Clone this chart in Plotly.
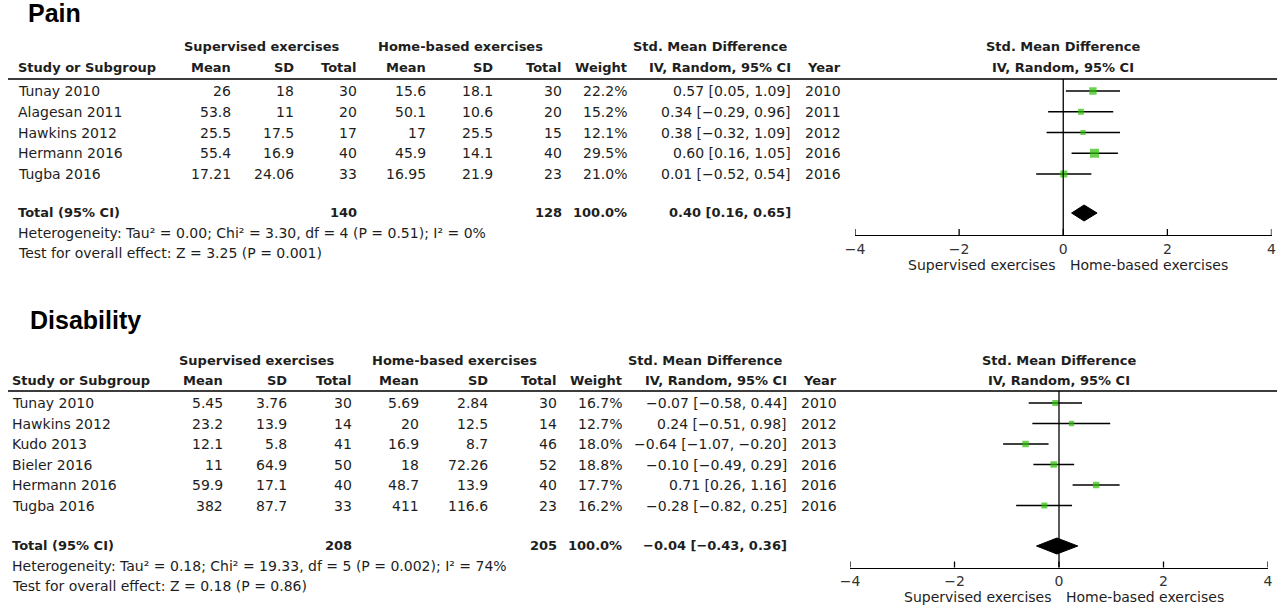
import plotly.graph_objects as go

W, H = 1280, 608
FONT = "DejaVu Sans"
TXT = "#1e1e1e"
GREEN = "#2cbf06"

# ---------------- DATA ----------------
pain_study = ["Tunay 2010", "Alagesan 2011", "Hawkins 2012", "Hermann 2016", "Tugba 2016"]
pain_sup_mean = [26, 53.8, 25.5, 55.4, 17.21]
pain_sup_sd = [18, 11, 17.5, 16.9, 24.06]
pain_sup_n = [30, 20, 17, 40, 33]
pain_home_mean = [15.6, 50.1, 17, 45.9, 16.95]
pain_home_sd = [18.1, 10.6, 25.5, 14.1, 21.9]
pain_home_n = [30, 20, 15, 40, 23]
pain_weight = [22.2, 15.2, 12.1, 29.5, 21.0]
pain_smd = [0.57, 0.34, 0.38, 0.60, 0.01]
pain_lo = [0.05, -0.29, -0.32, 0.16, -0.52]
pain_hi = [1.09, 0.96, 1.09, 1.05, 0.54]
pain_year = [2010, 2011, 2012, 2016, 2016]
pain_total = dict(sup_n=140, home_n=128, weight=100.0, smd=0.40, lo=0.16, hi=0.65)
pain_het = "Heterogeneity: Tau² = 0.00; Chi² = 3.30, df = 4 (P = 0.51); I² = 0%"
pain_test = "Test for overall effect: Z = 3.25 (P = 0.001)"

dis_study = ["Tunay 2010", "Hawkins 2012", "Kudo 2013", "Bieler 2016", "Hermann 2016", "Tugba 2016"]
dis_sup_mean = [5.45, 23.2, 12.1, 11, 59.9, 382]
dis_sup_sd = [3.76, 13.9, 5.8, 64.9, 17.1, 87.7]
dis_sup_n = [30, 14, 41, 50, 40, 33]
dis_home_mean = [5.69, 20, 16.9, 18, 48.7, 411]
dis_home_sd = [2.84, 12.5, 8.7, 72.26, 13.9, 116.6]
dis_home_n = [30, 14, 46, 52, 40, 23]
dis_weight = [16.7, 12.7, 18.0, 18.8, 17.7, 16.2]
dis_smd = [-0.07, 0.24, -0.64, -0.10, 0.71, -0.28]
dis_lo = [-0.58, -0.51, -1.07, -0.49, 0.26, -0.82]
dis_hi = [0.44, 0.98, -0.20, 0.29, 1.16, 0.25]
dis_year = [2010, 2012, 2013, 2016, 2016, 2016]
dis_total = dict(sup_n=208, home_n=205, weight=100.0, smd=-0.04, lo=-0.43, hi=0.36)
dis_het = "Heterogeneity: Tau² = 0.18; Chi² = 19.33, df = 5 (P = 0.002); I² = 74%"
dis_test = "Test for overall effect: Z = 0.18 (P = 0.86)"

tick_vals = [-4, -2, 0, 2, 4]
col_headers = ["Mean", "SD", "Total", "Mean", "SD", "Total", "Weight", "IV, Random, 95% CI", "Year"]

# ---------------- LAYOUT ----------------
REG = 14   # regular text size
BLD = 13   # bold text size

def px(x):
    return x / W

def py(y):
    return 1 - y / H

def mn(v):
    return str(v).replace("-", "−")

def ci(v, lo, hi):
    return mn(f"{v:.2f} [{lo:.2f}, {hi:.2f}]")

fig = go.Figure()

def text(x, y, s, anchor="left", bold=False, size=None, family=FONT, color=TXT):
    if size is None:
        size = BLD if bold else REG
    if bold:
        s = f"<b>{s}</b>"
    fig.add_annotation(x=px(x), y=py(y), xref="paper", yref="paper", text=s,
                       showarrow=False, xanchor=anchor, yanchor="middle",
                       borderpad=0, borderwidth=0,
                       font=dict(family=family, size=size, color=color))

panels = [
    dict(name="Pain", study=pain_study, cols=[pain_sup_mean, pain_sup_sd, pain_sup_n,
                                              pain_home_mean, pain_home_sd, pain_home_n],
         weight=pain_weight, smd=pain_smd, lo=pain_lo, hi=pain_hi, year=pain_year,
         total=pain_total, het=pain_het, test=pain_test,
         title_x=28, title_y=13, hdr1_y=47, hdr2_y=68, line_y=79, row0_y=91, row_h=20.75,
         total_y=212.5, het_y=232.5, test_y=252.5, study_x=18,
         cols_x=[231, 294, 357, 426, 493, 562, 627, 791, 841],
         grp1=262, grp2=460, grp3=710,
         axis_y=235, ax_l=855, ax_r=1271.5, cap_y=265, xa="x", ya="y"),
    dict(name="Disability", study=dis_study, cols=[dis_sup_mean, dis_sup_sd, dis_sup_n,
                                                   dis_home_mean, dis_home_sd, dis_home_n],
         weight=dis_weight, smd=dis_smd, lo=dis_lo, hi=dis_hi, year=dis_year,
         total=dis_total, het=dis_het, test=dis_test,
         title_x=30, title_y=320, hdr1_y=360, hdr2_y=380, line_y=391, row0_y=403, row_h=20.5,
         total_y=545.5, het_y=565.5, test_y=585.5, study_x=12,
         cols_x=[223, 287, 352, 419, 488, 557, 622, 787, 837],
         grp1=257, grp2=454, grp3=705,
         axis_y=567.5, ax_l=850, ax_r=1268, cap_y=597, xa="x2", ya="y2"),
]

layout_axes = {}
for i, p in enumerate(panels):
    sfx = "" if i == 0 else str(i + 1)
    xa, ya = p["xa"], p["ya"]
    n = len(p["study"])
    rows_y = [p["row0_y"] + k * p["row_h"] for k in range(n)]

    # title
    text(p["title_x"], p["title_y"], p["name"], bold=True, size=25, family="Liberation Sans", color="#000")
    # group headers
    text(p["grp1"], p["hdr1_y"], "Supervised exercises", anchor="center", bold=True)
    text(p["grp2"], p["hdr1_y"], "Home‑based exercises", anchor="center", bold=True)
    text(p["grp3"], p["hdr1_y"], "Std. Mean Difference", anchor="center", bold=True)
    text(p["study_x"], p["hdr2_y"], "Study or Subgroup", bold=True)
    for cx, h in zip(p["cols_x"], col_headers):
        text(cx, p["hdr2_y"], h, anchor="right", bold=True)
    # forest headers
    mid = (p["ax_l"] + p["ax_r"]) / 2
    text(mid, p["hdr1_y"], "Std. Mean Difference", anchor="center", bold=True)
    text(mid, p["hdr2_y"], "IV, Random, 95% CI", anchor="center", bold=True)
    # header rule
    fig.add_shape(type="line", xref="paper", yref="paper", x0=px(8), x1=px(1277),
                  y0=py(p["line_y"]), y1=py(p["line_y"]), line=dict(color="#3c3c3c", width=2))

    # study rows
    for k in range(n):
        y = rows_y[k]
        text(p["study_x"], y, p["study"][k])
        for j, col in enumerate(p["cols"]):
            text(p["cols_x"][j], y, mn(col[k]), anchor="right")
        text(p["cols_x"][6], y, f"{p['weight'][k]:.1f}%", anchor="right")
        text(p["cols_x"][7], y, ci(p["smd"][k], p["lo"][k], p["hi"][k]), anchor="right")
        text(p["cols_x"][8], y, str(p["year"][k]), anchor="right")

    # total row
    t = p["total"]
    text(p["study_x"], p["total_y"], "Total (95% CI)", bold=True)
    text(p["cols_x"][2], p["total_y"], str(t["sup_n"]), anchor="right", bold=True)
    text(p["cols_x"][5], p["total_y"], str(t["home_n"]), anchor="right", bold=True)
    text(p["cols_x"][6], p["total_y"], f"{t['weight']:.1f}%", anchor="right", bold=True)
    text(p["cols_x"][7], p["total_y"], ci(t["smd"], t["lo"], t["hi"]), anchor="right", bold=True)
    text(p["study_x"], p["het_y"], p["het"])
    text(p["study_x"], p["test_y"], p["test"])

    # ---- forest plot ----
    ci_x, ci_y = [], []
    for k in range(n):
        ci_x += [p["lo"][k], p["hi"][k], None]
        ci_y += [rows_y[k], rows_y[k], None]
    fig.add_trace(go.Scatter(x=ci_x, y=ci_y, mode="lines", xaxis=xa, yaxis=ya,
                             line=dict(color="black", width=1.3), hoverinfo="skip", showlegend=False))
    fig.add_trace(go.Scatter(x=p["smd"], y=rows_y, mode="markers", xaxis=xa, yaxis=ya,
                             marker=dict(symbol="square", color=GREEN,
                                         size=[2.5 + 0.22 * w for w in p["weight"]],
                                         line=dict(width=0)),
                             showlegend=False))
    dy = 8
    ty = p["total_y"] + 0.5
    fig.add_trace(go.Scatter(x=[t["lo"], t["smd"], t["hi"], t["smd"], t["lo"]],
                             y=[ty, ty - dy, ty, ty + dy, ty], mode="lines", fill="toself",
                             fillcolor="black", line=dict(color="black", width=1),
                             xaxis=xa, yaxis=ya, showlegend=False, hoverinfo="skip"))
    # zero line
    fig.add_shape(type="line", xref=xa, yref=ya, x0=0, x1=0, y0=p["line_y"], y1=p["axis_y"],
                  line=dict(color="black", width=1.3))
    # crossing ticks
    for tv in tick_vals:
        fig.add_shape(type="line", xref=xa, yref=ya, x0=tv, x1=tv,
                      y0=p["axis_y"] - 6, y1=p["axis_y"] + 5, line=dict(color="black", width=1.3))
    # captions
    fig.add_annotation(x=0, y=py(p["cap_y"]), xref=xa, yref="paper", text="Supervised exercises",
                       showarrow=False, xanchor="right", yanchor="middle", xshift=-6,
                       borderpad=0, font=dict(family=FONT, size=REG, color=TXT))
    fig.add_annotation(x=0, y=py(p["cap_y"]), xref=xa, yref="paper", text="Home‑based exercises",
                       showarrow=False, xanchor="left", yanchor="middle", xshift=6,
                       borderpad=0, font=dict(family=FONT, size=REG, color=TXT))

    layout_axes["xaxis" + sfx] = dict(domain=[px(p["ax_l"]), px(p["ax_r"])], range=[-4, 4],
                                      anchor=ya, showline=True, linecolor="black", linewidth=1.3,
                                      tickvals=tick_vals, ticktext=[mn(v) for v in tick_vals],
                                      ticks="outside", ticklen=1, tickcolor="rgba(0,0,0,0)",
                                      tickfont=dict(family=FONT, size=REG, color="#333"),
                                      showgrid=False, zeroline=False, fixedrange=True)
    layout_axes["yaxis" + sfx] = dict(domain=[py(p["axis_y"]), py(p["line_y"])],
                                      range=[p["axis_y"], p["line_y"]], anchor=xa,
                                      visible=False, showgrid=False, zeroline=False, fixedrange=True)

fig.update_layout(width=W, height=H, margin=dict(l=0, r=0, t=0, b=0, autoexpand=False),
                  paper_bgcolor="white", plot_bgcolor="white", showlegend=False,
                  **layout_axes)

fig.write_html("out.html", config={"displayModeBar": False},
               post_script="document.body.style.margin='0';document.body.style.padding='0';document.body.style.overflow='hidden';")
